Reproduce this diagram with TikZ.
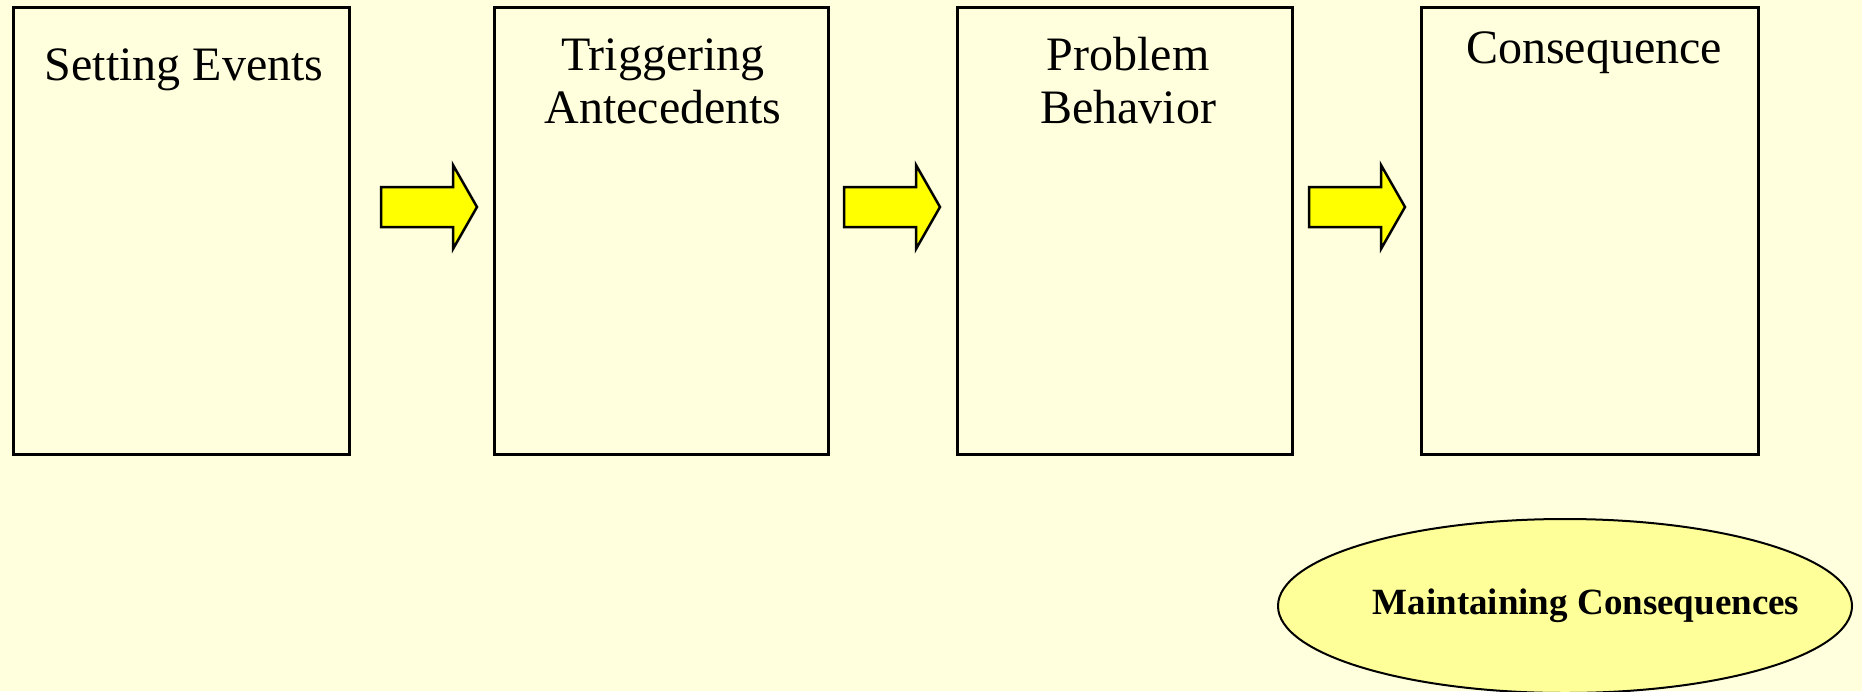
\documentclass[tikz,border=0pt]{standalone}
\usepackage{fontspec}
\setmainfont{Liberation Serif}
\usetikzlibrary{shapes.geometric}
\definecolor{bgyellow}{RGB}{255,255,221}
\definecolor{ellfill}{RGB}{255,255,153}
\definecolor{arrfill}{RGB}{255,255,0}
\tikzset{
  stagebox/.style={draw=black, line width=3pt},
  lbl/.style={anchor=base, inner sep=0pt, font=\fontsize{48}{54}\selectfont},
  fatarrow/.style={draw=black, line width=2.5pt, fill=arrfill, line join=miter},
}
\begin{document}
\begin{tikzpicture}[x=1pt,y=-1pt]
\fill[bgyellow] (0,0) rectangle (1862,691);
\useasboundingbox (0,0) rectangle (1862,691);
% boxes
\draw[stagebox] (13,7) rectangle (349,454);
\draw[stagebox] (494,7) rectangle (828,454);
\draw[stagebox] (957,7) rectangle (1292,454);
\draw[stagebox] (1421,7) rectangle (1758,454);
% labels
\node[lbl] (l1) at (184,80) {Setting Events};
\node[lbl] (l2a) at (663,70) {Triggering};
\node[lbl] (l2b) at (663,123) {Antecedents};
\node[lbl] (l3a) at (1128,70) {Problem};
\node[lbl] (l3b) at (1128,123) {Behavior};
\node[lbl] (l4) at (1594,63) {Consequence};
% arrows
\foreach \xo/\nm in {381/a1,844/a2,1309/a3}{
  \draw[fatarrow] (\xo,187) -- (\xo+72,187) -- (\xo+72,165) -- (\xo+96,207)
    -- (\xo+72,249) -- (\xo+72,227) -- (\xo,227) -- cycle;
}
% ellipse
\draw[line width=2pt, fill=ellfill] (1565,606) ellipse [x radius=287, y radius=87];
\node[anchor=base, inner sep=0pt, font=\fontsize{37}{42}\selectfont\bfseries] (mc) at (1586,614) {Maintaining Consequences};
\end{tikzpicture}
\end{document}
